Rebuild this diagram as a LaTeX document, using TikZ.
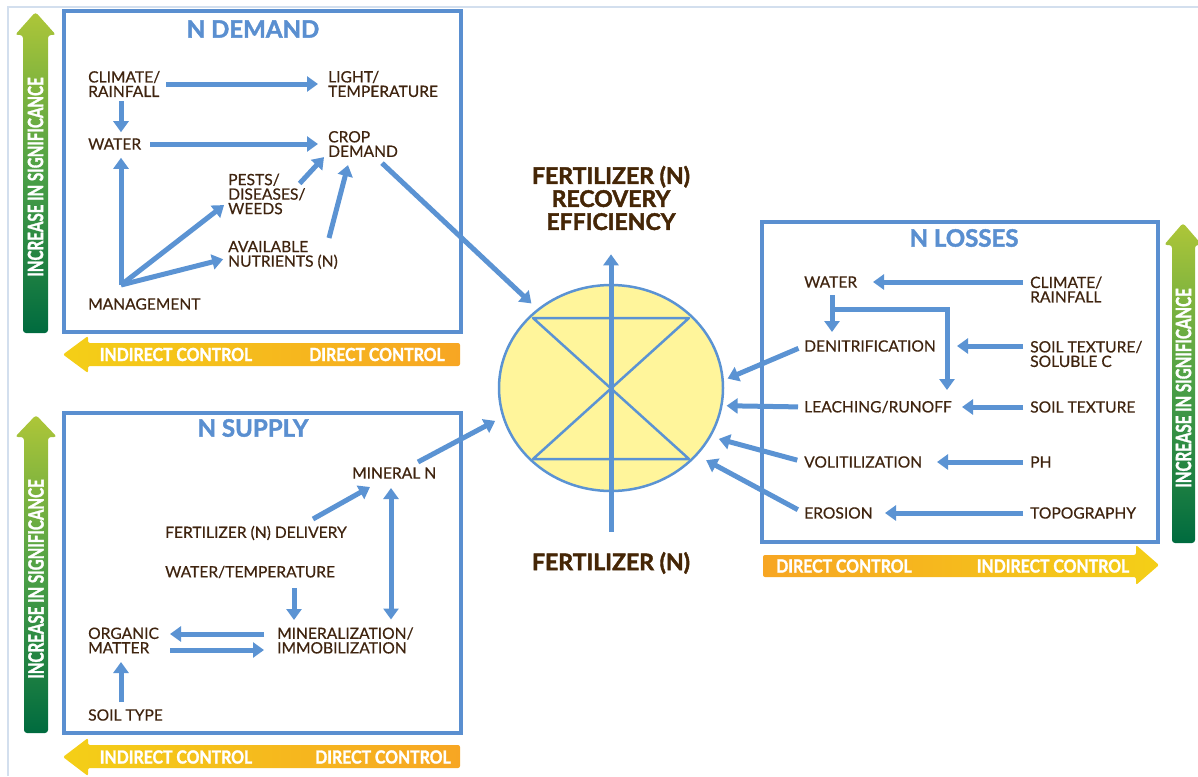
\documentclass[tikz,border=0pt]{standalone}
\usepackage{fontspec}
\usepackage{graphicx}
\setmainfont{Lato}[FakeBold=0.5, BoldFeatures={FakeBold=1.8}]
\usetikzlibrary{arrows.meta,shapes.geometric}
\tikzset{>={Triangle[width=15pt,length=11pt]}}
\definecolor{lineblue}{HTML}{5B93D3}
\definecolor{boxblue}{HTML}{5A8FD0}
\definecolor{labbrown}{HTML}{3F240F}
\definecolor{titlebrown}{HTML}{452606}
\definecolor{circfill}{HTML}{FFF59B}
\definecolor{greentop}{HTML}{AEC638}
\definecolor{greenmid}{HTML}{4CA046}
\definecolor{greenbot}{HTML}{006B3F}
\definecolor{ctrlyellow}{HTML}{F4CF17}
\definecolor{ctrlorange}{HTML}{F7A623}
\definecolor{framegray}{HTML}{D3DFEE}
\tikzset{
  lbl/.style={inner sep=0pt, anchor=west, align=left, text=labbrown,
    font=\fontsize{15.6}{14.5}\selectfont},
  boxtitle/.style={inner sep=0pt, text=boxblue, font=\fontsize{24}{24}\selectfont\bfseries},
  ftitle/.style={inner sep=0pt, align=center, text=titlebrown,
    font=\fontsize{23}{23}\selectfont\bfseries},
  arr/.style={->, draw=lineblue, line width=5pt},
  panel/.style={draw=boxblue, line width=3.5pt},
  signif/.style={inner sep=0pt, rotate=90, text=white, font=\fontsize{21}{21}\selectfont\bfseries},
  ctrl/.style={inner sep=0pt, text=white, font=\fontsize{18}{18}\selectfont\bfseries},
}
\newcommand{\SIGNIF}{\scalebox{0.72}[1]{INCREASE IN SIGNIFICANCE}}
\newcommand{\CTRL}[1]{\scalebox{0.88}[1]{#1}}

\begin{document}
\begin{tikzpicture}[x=1pt,y=-1pt]

\useasboundingbox (0,0) rectangle (1198,776);
\draw[framegray, line width=1.5pt] (8,776) -- (8,7) -- (1198,7); %% frame

%% side arrows
\shade[top color=greentop, bottom color=greenbot, middle color=greenmid, rounded corners=3pt]
(35.5,12) -- (56,35) -- (48,35) -- (48,333) -- (23,333) -- (23,35) -- (15,35) -- cycle;
\node[signif] (gDemand) at (35.5,177) {\SIGNIF};
\shade[top color=greentop, bottom color=greenbot, middle color=greenmid, rounded corners=3pt]
(36,415) -- (57,437) -- (48,437) -- (48,733) -- (24,733) -- (24,437) -- (15,437) -- cycle;
\node[signif] (gSupply) at (36,579) {\SIGNIF};
\shade[top color=greentop, bottom color=greenbot, middle color=greenmid, rounded corners=3pt]
(1183,223) -- (1202,245) -- (1195,245) -- (1195,543) -- (1172,543) -- (1172,245) -- (1164,245) -- cycle;
\node[signif] (gLosses) at (1183.5,388) {\SIGNIF};

\shade[left color=ctrlyellow, right color=ctrlorange, rounded corners=2pt]
(63,354.5) -- (88,336) -- (88,343) -- (460,343) -- (460,366) -- (88,366) -- (88,373) -- cycle;
\node[ctrl] (oIndDemand) at (176,354.5) {\CTRL{INDIRECT CONTROL}};
\node[ctrl] (oDirDemand) at (377,354.5) {\CTRL{DIRECT CONTROL}};
\shade[left color=ctrlyellow, right color=ctrlorange, rounded corners=2pt]
(63,757) -- (88,738) -- (88,745) -- (460,745) -- (460,768) -- (88,768) -- (88,776) -- cycle;
\node[ctrl] (oIndSupply) at (176,757) {\CTRL{INDIRECT CONTROL}};
\node[ctrl] (oDirSupply) at (383,757) {\CTRL{DIRECT CONTROL}};
\shade[left color=ctrlorange, right color=ctrlyellow, rounded corners=2pt]
(763,555) -- (1136,555) -- (1136,545) -- (1159,565) -- (1136,585) -- (1136,577) -- (763,577) -- cycle;
\node[ctrl] (oDirLosses) at (844,566) {\CTRL{DIRECT CONTROL}};
\node[ctrl] (oIndLosses) at (1053,566) {\CTRL{INDIRECT CONTROL}};

%% panels
\draw[panel] (64,11) rectangle (461,332);
\draw[panel] (64,413) rectangle (461,733);
\draw[panel] (762,222) rectangle (1158,542);
\node[boxtitle] (dTitle) at (253,29) {N DEMAND};
\node[boxtitle] (sTitle) at (253,428) {N SUPPLY};
\node[boxtitle] (lTitle) at (964,238) {N LOSSES};

%% recovery efficiency
\node[ellipse, draw=lineblue, line width=2.5pt, fill=circfill, minimum width=224pt,
  minimum height=206pt, inner sep=0pt] (fre) at (611,388) {};
\draw[lineblue, line width=2.5pt, line join=round] ([shift={(-78,-70)}]fre.center)
  -- ++(156,0) -- ++(-156,141) -- ++(156,0) -- cycle;
\node[ftitle] (fTop) at (611,198) {FERTILIZER (N)\\RECOVERY\\EFFICIENCY};
\node[ftitle] (fBot) at (611,563) {FERTILIZER (N)};
\draw[arr, shorten <=20pt, shorten >=24pt] (fBot.north) -- (fTop.south);

%% N demand
\node[lbl] (dClimate) at (88,84) {CLIMATE/\\RAINFALL};
\node[lbl] (dLight) at (328,84) {LIGHT/\\TEMPERATURE};
\node[lbl] (dWater) at (88,144) {WATER};
\node[lbl] (dCrop) at (328,144) {CROP\\DEMAND};
\node[lbl] (dPests) at (228,194) {PESTS/\\DISEASES/\\WEEDS};
\node[lbl] (dNutr) at (228,255) {AVAILABLE\\NUTRIENTS (N)};
\node[lbl] (dMgmt) at (88,304) {MANAGEMENT};
\coordinate (dHub) at ([shift={(33,-19)}]dMgmt.west);

\draw[arr, shorten <=6pt, shorten >=10pt] (dClimate.east) -- (dClimate.east -| dLight.west);
\draw[arr, shorten <=4pt, shorten >=6pt] (dClimate.south -| dHub) -- (dWater.north -| dHub);
\draw[arr, shorten <=9pt, shorten >=10pt] (dWater.east) -- (dWater.east -| dCrop.west);
\draw[arr, shorten >=8pt] (dHub) -- (dHub |- dWater.south);
\draw[arr, shorten >=5pt] (dHub) -- ([shift={(0,8)}]dPests.west);
\draw[arr, shorten >=5pt] (dHub) -- ([shift={(0,3)}]dNutr.west);
\draw[arr] ([shift={(-6,10)}]dPests.north east) -- ([shift={(-4,0)}]dCrop.south west);
\draw[arr] ([shift={(101,-17)}]dNutr.west) -- ([shift={(20,8)}]dCrop.south west);
\draw[arr, shorten >=8pt] ([shift={(54,6)}]dCrop.south west) -- (fre.133);

%% N supply
\node[lbl] (sMineral) at (352,473) {MINERAL N};
\node[lbl] (sFert) at (165,533) {FERTILIZER (N) DELIVERY};
\node[lbl] (sWaterT) at (165,572) {WATER/TEMPERATURE};
\node[lbl] (sOrganic) at (88,640.5) {ORGANIC\\MATTER};
\node[lbl] (sMinz) at (277,640.5) {MINERALIZATION/\\IMMOBILIZATION};
\node[lbl] (sSoil) at (88,715) {SOIL TYPE};

\draw[arr] ([shift={(148,-14)}]sFert.west) -- ([shift={(18,14)}]sMineral.west);
\draw[arr, <->] ([shift={(39,15)}]sMineral.west) -- ([shift={(114,-21)}]sMinz.west);
\draw[arr] ([shift={(129,16)}]sWaterT.west) -- ([shift={(17,-20.5)}]sMinz.west);
\draw[arr] ([shift={(-13,-6.5)}]sMinz.west) -- ([shift={(82,-6.5)}]sOrganic.west);
\draw[arr] ([shift={(82,9.5)}]sOrganic.west) -- ([shift={(-13,9.5)}]sMinz.west);
\draw[arr] ([shift={(33,-13)}]sSoil.west) -- ([shift={(33,21.5)}]sOrganic.west);
\draw[arr, shorten >=8pt] ([shift={(66,-11)}]sMineral.west) -- (fre.195);

%% N losses
\node[lbl] (lWater) at (804,282) {WATER};
\node[lbl] (lClimate) at (1030,289.5) {CLIMATE/\\RAINFALL};
\node[lbl] (lDenit) at (804,346) {DENITRIFICATION};
\node[lbl] (lSoilC) at (1030,354) {SOIL TEXTURE/\\SOLUBLE C};
\node[lbl] (lLeach) at (804,407) {LEACHING/RUNOFF};
\node[lbl] (lSoil) at (1030,407) {SOIL TEXTURE};
\node[lbl] (lVolit) at (804,462) {VOLITILIZATION};
\node[lbl] (lPh) at (1030,462) {PH};
\node[lbl] (lEros) at (804,513) {EROSION};
\node[lbl] (lTopo) at (1030,513) {TOPOGRAPHY};

\draw[arr, shorten <=7pt] (lClimate.west |- lWater) -- ([shift={(69,0)}]lWater.west);
\draw[arr, shorten <=7pt] (lSoilC.west |- lDenit) -- ([shift={(153,0)}]lDenit.west);
\draw[arr, shorten <=7pt] (lSoil.west) -- ([shift={(158,0)}]lLeach.west);
\draw[arr, shorten <=7pt] (lPh.west) -- ([shift={(133,0)}]lVolit.west);
\draw[arr, shorten <=7pt] (lTopo.west) -- ([shift={(81,0)}]lEros.west);
\draw[arr] ([shift={(28,13)}]lWater.west) -- ([shift={(28,-14)}]lDenit.west);
\draw[arr] ([shift={(28,27)}]lWater.west) -| ([shift={(143,-17)}]lLeach.west);

\draw[arr, shorten <=6pt, shorten >=4pt] (lDenit.west) -- (fre.4);
\draw[arr, shorten <=6pt, shorten >=4pt] (lLeach.west) -- (fre.351);
\draw[arr, shorten <=7pt, shorten >=8pt] (lVolit.west) -- (fre.334);
\draw[arr, shorten <=7pt, shorten >=10pt] (lEros.west) -- (fre.322);

\end{tikzpicture}
\end{document}
